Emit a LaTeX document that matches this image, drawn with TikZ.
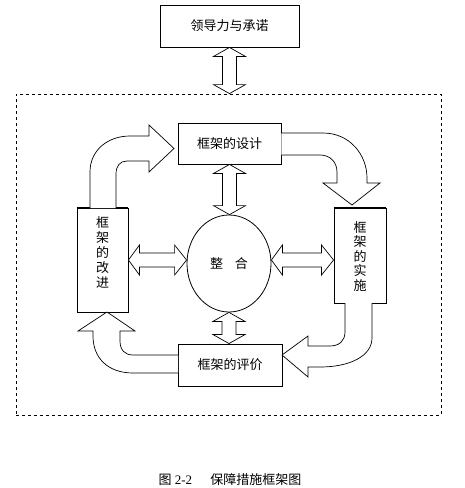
\documentclass[tikz,border=0pt]{standalone}
\usepackage{fontspec}
\setmainfont{Liberation Serif}
\newfontfamily\cjk{Noto Sans CJK SC}
\usetikzlibrary{calc,shapes.geometric}
\tikzset{
  box/.style={draw, line width=0.9pt, fill=white, inner sep=0pt, font=\cjk\fontsize{13}{15}\selectfont},
  blk/.style={draw, line width=0.7pt, fill=white, line join=miter},
  thick top/.style={line width=2.4pt},
}
\newcommand\vdarrow[2]{%
  \path[blk] let \p1=(#1), \p2=(#2) in
    (\x1,\y1) -- (\x1+16pt,\y1-9pt) -- (\x1+7pt,\y1-9pt) -- (\x1+7pt,\y2+9pt) --
    (\x1+16pt,\y2+9pt) -- (\x1,\y2) -- (\x1-16pt,\y2+9pt) -- (\x1-7pt,\y2+9pt) --
    (\x1-7pt,\y1-9pt) -- (\x1-16pt,\y1-9pt) -- cycle;}
\newcommand\hdarrow[2]{%
  \path[blk] let \p1=(#1), \p2=(#2) in
    (\x1,\y1) -- (\x1+11pt,\y1+15pt) -- (\x1+11pt,\y1+7pt) -- (\x2-12pt,\y1+7pt) --
    (\x2-12pt,\y1+15pt) -- (\x2,\y1) -- (\x2-12pt,\y1-15pt) -- (\x2-12pt,\y1-7pt) --
    (\x1+11pt,\y1-7pt) -- (\x1+11pt,\y1-15pt) -- cycle;}
\begin{document}
\begin{tikzpicture}[x=1pt,y=-1pt]
\useasboundingbox (0,0) rectangle (464,488);
\fill[white] (0,0) rectangle (464,488);

% dashed frame
\node[draw, dashed, line width=0.8pt, minimum width=425pt, minimum height=321pt, inner sep=0pt]
  (frame) at (228.5,254.5) {};

% nodes
\node[box, minimum width=139pt, minimum height=42pt] (lead) at (229.5,26) {领导力与承诺};
\node[box, minimum width=103pt, minimum height=41pt] (design) at (229.5,143.5) {框架的设计};
\node[box, minimum width=104pt, minimum height=42pt] (eval) at (230,365) {框架的评价};
\node[box, minimum width=51pt, minimum height=104pt, anchor=north] (improve) at (102.5,208) {};
\node[box, minimum width=52pt, minimum height=95pt, anchor=north] (implement) at (360,208) {};
\node[font=\cjk\fontsize{13}{15}\selectfont, align=center, anchor=north, inner sep=0pt] (improvetxt)
  at ([yshift=-8pt]improve.north) {框\\架\\的\\改\\进};
\node[font=\cjk\fontsize{13}{14.5}\selectfont, align=center, anchor=north, inner sep=0pt] (impltxt)
  at ([yshift=-13pt]implement.north) {框\\架\\的\\实\\施};
\draw[thick top] (improve.north west) -- (improve.north east);
\draw[thick top] (implement.north west) -- (implement.north east);

\node[draw, ellipse, line width=0.8pt, minimum width=84pt, minimum height=97pt, inner sep=0pt,
  font=\cjk\fontsize{13}{15}\selectfont] (ell) at (229,263.5) {整\hspace{12pt}合};

% straight double arrows
\vdarrow{lead.south}{frame.north}
\vdarrow{design.south}{ell.north}
\vdarrow{ell.south}{eval.north}
\hdarrow{improve.east |- 0,260}{ell.west |- 0,260}
\hdarrow{ell.east |- 0,260}{implement.west |- 0,260}

% curved block arrows
\draw[blk] (90,208) -- (90,172) .. controls (90,150) and (108,136) .. (130,136) -- (149,136)
  -- (149,125) -- (174,148.5) -- (149,172) -- (149,161) -- (127,161)
  .. controls (120,161) and (116,166) .. (116,174) -- (116,208);
\draw[blk] (design.east |- 0,133) -- (323,133) .. controls (350,133) and (367,155) .. (367,178)
  -- (367,183) -- (380,183) -- (352,205) -- (323,183) -- (337,183) -- (337,172)
  .. controls (337,162) and (330,155) .. (320,155) -- (design.east |- 0,155);
\draw[blk] (372,303) -- (372,338) .. controls (372,356) and (350,367) .. (320,367) -- (308,367)
  -- (308,377) -- (282,355) -- (308,336) -- (308,346) -- (330,346)
  .. controls (340,346) and (345,340) .. (345,332) -- (345,303);
\draw[blk] (178,373) -- (133,373) .. controls (108,373) and (93,358) .. (93,336) -- (93,331)
  -- (78,331) -- (107,312) -- (135,331) -- (120,331) -- (120,341)
  .. controls (120,350) and (125,355) .. (133,355) -- (178,355);

% caption
\node[font=\fontsize{13}{15}\selectfont, inner sep=0pt] (cap) at (230,480)
  {{\cjk 图} 2-2\hspace{1.4em}{\cjk 保障措施框架图}};
\end{tikzpicture}
\end{document}
